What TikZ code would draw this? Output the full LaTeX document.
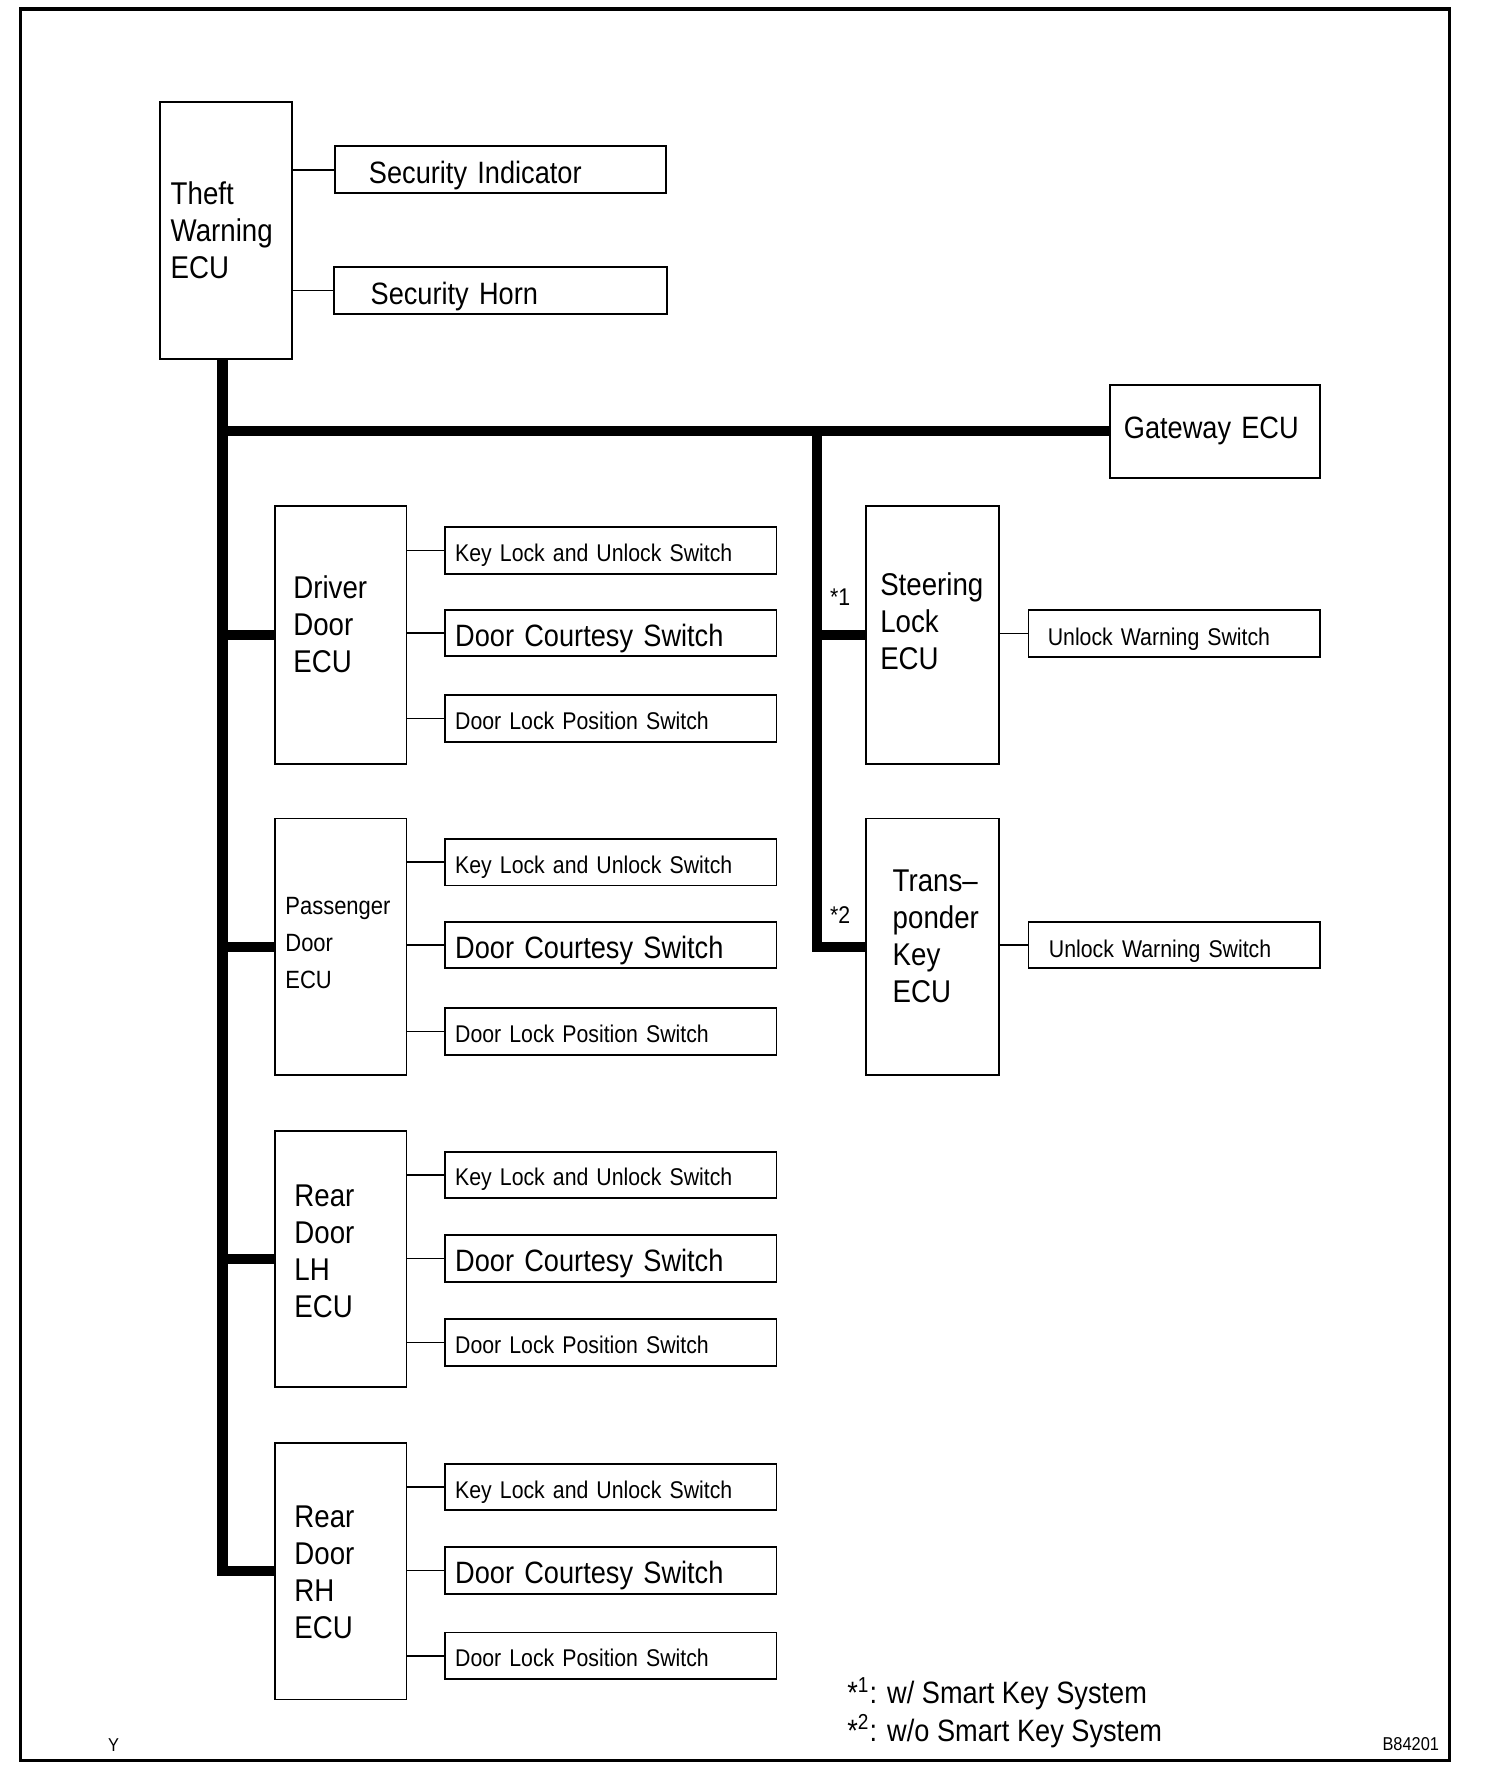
\documentclass[tikz,border=0pt]{standalone}
\usepackage{fontspec}
\setmainfont{Liberation Sans}[FakeStretch=0.88]
\newcommand\fbig{\fontsize{13.6}{16.3}\selectfont}
\newcommand\fecu{\fontsize{13.85}{16.3}\selectfont}
\newcommand\fsmall{\fontsize{10.65}{16.3}\selectfont}
\newcommand\fpass{\fontsize{11}{16.3}\selectfont}
\newcommand\ftiny{\fontsize{8.2}{10}\selectfont}
\begin{document}
\begin{tikzpicture}[x=0.5pt,y=-0.5pt,
  box/.style={draw, line width=0.8pt, inner sep=0pt},
  ecubox/.style={box, minimum width=58pt, minimum height=113pt},
  swbox/.style={box, minimum width=146pt, minimum height=20.5pt, text width=137pt, inner xsep=4.5pt, align=left, font=\fsmall, text height=11.6pt, text depth=2pt},
  dcbox/.style={swbox, font=\fbig, text height=14.8pt, text depth=3pt},
  secbox/.style={box, minimum width=146pt, minimum height=20.75pt, text width=116pt, inner xsep=15pt, align=left, font=\fbig, text height=15.4pt, text depth=3pt},
  unbox/.style={box, minimum width=128.5pt, minimum height=20.5pt, text width=111.5pt, inner xsep=8.5pt, align=left, font=\fsmall, text height=12.6pt, text depth=2pt},
  ecutext/.style={anchor=west, align=left, inner sep=0pt, font=\fecu},
  bus/.style={line width=4.5pt, line join=miter},
  wire/.style={line width=0.7pt}
]
\useasboundingbox (0,0) rectangle (1325,1568);
\draw[line width=1.5pt] (18,8) rectangle (1277,1551);

% Theft warning ECU
\node[box, minimum width=58pt, minimum height=113pt] (theft) at (199,203) {};
\node[ecutext] (ttheft) at (150,203) {Theft\\Warning\\ECU};
\node[secbox] (si) at (441,149.5) {Security Indicator};
\node[secbox, text width=114.5pt, inner xsep=16pt] (sh) at (441,256) {Security Horn};
\draw[wire] (si.west) -- (si.west -| theft.east);
\draw[wire] (sh.west) -- (sh.west -| theft.east);

% Gateway
\node[box, minimum width=92.5pt, minimum height=41pt, text width=80.5pt, inner xsep=6pt, align=left, font=\fbig] (gw) at (1070.5,380) {Gateway ECU};

% Door ECUs
\node[ecubox, minimum height=113.5pt] (drv) at (300,559.5) {};
\node[ecutext] (tdrv) at (258,550) {Driver\\Door\\ECU};
\node[ecubox] (pas) at (300,834) {};
\node[ecutext, font=\fpass] (tpas) at (251,831) {Passenger\\Door\\ECU};
\node[ecubox] (rlh) at (300,1109) {};
\node[ecutext] (trlh) at (259,1102) {Rear\\Door\\LH\\ECU};
\node[ecubox] (rrh) at (300,1384) {};
\node[ecutext] (trrh) at (259,1385) {Rear\\Door\\RH\\ECU};

% Right ECUs
\node[ecubox, minimum width=58.5pt, minimum height=113.5pt] (steer) at (821.5,559.5) {};
\node[ecutext] (tsteer) at (775,547) {Steering\\Lock\\ECU};
\node[ecubox, minimum width=58.5pt] (trans) at (821.5,834) {};
\node[ecutext] (ttrans) at (786,825) {Trans--\\ponder\\Key\\ECU};
\node[unbox] (uw1) at (1034.5,558) {Unlock Warning Switch};
\node[unbox, text width=110.5pt, inner xsep=9pt] (uw2) at (1034.5,832.5) {Unlock Warning Switch};
\draw[wire] (uw1.west) -- (uw1.west -| steer.east);
\draw[wire] (uw2.west) -- (uw2.west -| trans.east);

% Switches
\node[swbox] (kl1) at (538,485) {Key Lock and Unlock Switch};
\node[dcbox] (dc1) at (538,557.5) {Door Courtesy Switch};
\node[swbox] (dl1) at (538,633) {Door Lock Position Switch};
\node[swbox] (kl2) at (538,759.5) {Key Lock and Unlock Switch};
\node[dcbox] (dc2) at (538,832.5) {Door Courtesy Switch};
\node[swbox] (dl2) at (538,908.5) {Door Lock Position Switch};
\node[swbox] (kl3) at (538,1035) {Key Lock and Unlock Switch};
\node[dcbox] (dc3) at (538,1108.5) {Door Courtesy Switch};
\node[swbox] (dl3) at (538,1182.5) {Door Lock Position Switch};
\node[swbox] (kl4) at (538,1310) {Key Lock and Unlock Switch};
\node[dcbox] (dc4) at (538,1383.5) {Door Courtesy Switch};
\node[swbox] (dl4) at (538,1458.5) {Door Lock Position Switch};
\foreach \e/\k/\d/\l in {drv/kl1/dc1/dl1, pas/kl2/dc2/dl2, rlh/kl3/dc3/dl3, rrh/kl4/dc4/dl4}{
  \draw[wire] (\k.west) -- (\k.west -| \e.east);
  \draw[wire] (\d.west) -- (\d.west -| \e.east);
  \draw[wire] (\l.west) -- (\l.west -| \e.east);
}

% Buses
\coordinate (btop) at (196,316);
\coordinate (b2top) at (720,380);
\draw[bus] (btop) |- (rrh.west);
\draw[bus] (192,380) -- (gw.west);
\draw[bus] (drv.west) -- (drv.west -| btop);
\draw[bus] (pas.west) -- (pas.west -| btop);
\draw[bus] (rlh.west) -- (rlh.west -| btop);
\draw[bus] (b2top) |- (trans.west);
\draw[bus] (steer.west) -- (steer.west -| b2top);

% Labels
\node[font=\fsmall, inner sep=0pt] (n1) at (740,526) {*1};
\node[font=\fsmall, inner sep=0pt] (n2) at (740,806) {*2};
\node[font=\fbig, anchor=west, inner sep=0pt] (fn1) at (746,1492) {*\textsuperscript{1}: w/ Smart Key System};
\node[font=\fbig, anchor=west, inner sep=0pt] (fn2) at (746,1525) {*\textsuperscript{2}: w/o Smart Key System};
\node[font=\ftiny, inner sep=0pt] (yy) at (100,1537) {Y};
\node[font=\ftiny, anchor=east, inner sep=0pt] (code) at (1268,1536) {B84201};
\end{tikzpicture}
\end{document}
